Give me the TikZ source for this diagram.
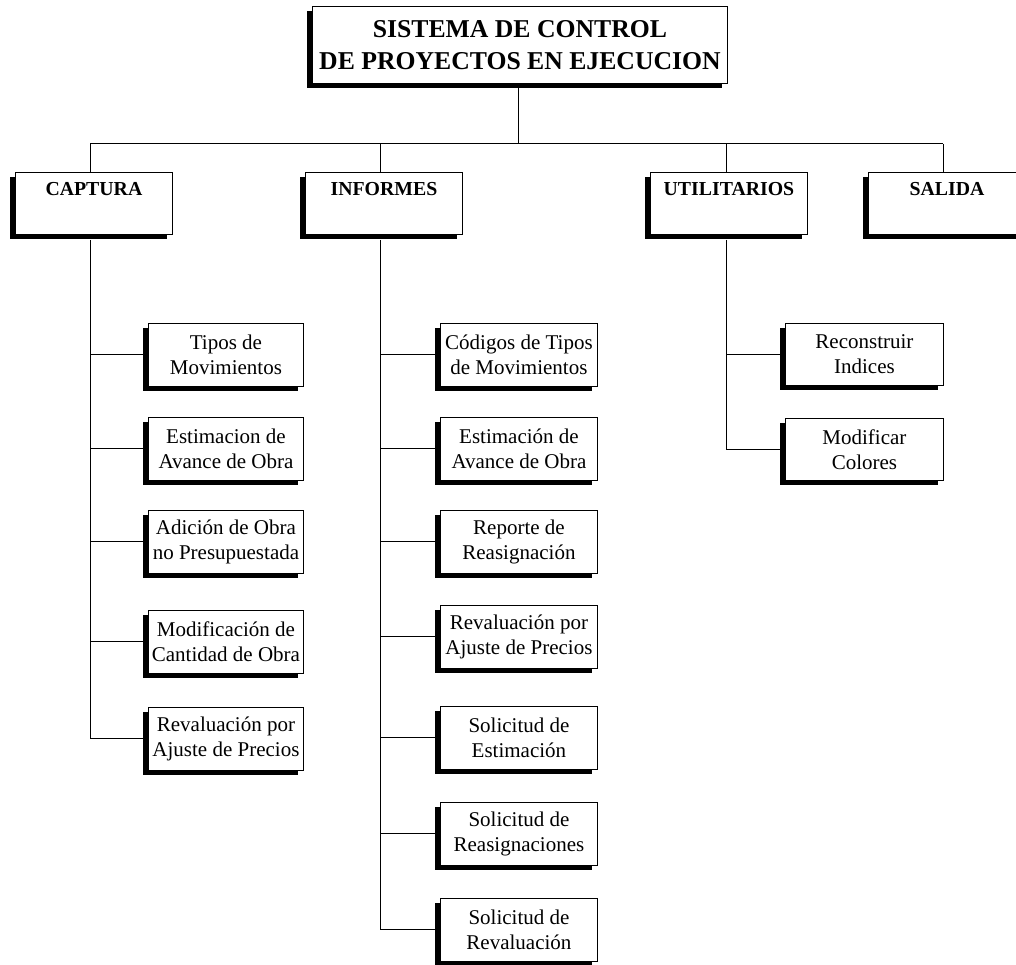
\documentclass[tikz,border=0pt]{standalone}
\usepackage{fontspec}
\setmainfont{Liberation Serif}
\usetikzlibrary{shadows}
\begin{document}
\begin{tikzpicture}[x=1pt,y=-1pt,
  shbox/.style={draw, fill=white, line width=0.9pt, inner sep=0pt, anchor=north west,
    drop shadow={shadow xshift=-5pt, shadow yshift=-5pt, fill=black, opacity=1}},
  titlebox/.style={shbox, minimum width=415pt, minimum height=77pt, align=center,
    font=\fontsize{25.7}{32}\selectfont\bfseries},
  catbox/.style={shbox, minimum width=157pt, text height=23.5pt, text depth=38.5pt,
    font=\fontsize{19.8}{24}\selectfont\bfseries},
  subbox/.style={shbox, minimum width=157pt, minimum height=63pt, align=center,
    font=\fontsize{21}{25}\selectfont},
  conn/.style={line width=1pt}]
\useasboundingbox (0,0) rectangle (1016,965);
\fill[white] (0,0) rectangle (1016,965);

% coordinates for trunk positions
\coordinate (bus) at (518,144);
\coordinate (capx) at (90,0);
\coordinate (infx) at (380,0);
\coordinate (utix) at (726,0);
\coordinate (salx) at (943,0);
\coordinate (busL) at (90,144);
\coordinate (busR) at (943,144);

% connectors of the top level (drawn first, boxes on top)
\draw[conn] (518,84) coordinate (tb) -- (bus);
\draw[conn] (busL) -- (busR);
\draw[conn] (busL) -- (90,172) coordinate (capT);
\draw[conn] (380,144) coordinate (infB) -- (380,172) coordinate (infT);
\draw[conn] (726,144) coordinate (utiB) -- (726,172) coordinate (utiT);
\draw[conn] (busR) -- (943,172) coordinate (salT);

% title
\node[titlebox] (title) at (312,6) {SISTEMA DE CONTROL\\DE PROYECTOS EN EJECUCION};

% categories
\node[catbox] (cap) at (15,172) {CAPTURA};
\node[catbox] (inf) at (305,172) {INFORMES};
\node[catbox] (uti) at (650,172) {UTILITARIOS};
\node[catbox] (sal) at (868,172) {SALIDA};

% CAPTURA children
\node[subbox, minimum width=155pt] (c1) at (148,323) {Tipos de\\Movimientos};
\node[subbox, minimum width=155pt] (c2) at (148,417) {Estimacion de\\Avance de Obra};
\node[subbox, minimum width=155pt] (c3) at (148,510) {Adición de Obra\\no Presupuestada};
\node[subbox, minimum width=155pt] (c4) at (148,610) {Modificación de\\Cantidad de Obra};
\node[subbox, minimum width=155pt] (c5) at (148,707) {Revaluación por\\Ajuste de Precios};

% INFORMES children
\node[subbox] (i1) at (440,323) {Códigos de Tipos\\de Movimientos};
\node[subbox] (i2) at (440,417) {Estimación de\\Avance de Obra};
\node[subbox] (i3) at (440,510) {Reporte de\\Reasignación};
\node[subbox] (i4) at (440,605) {Revaluación por\\Ajuste de Precios};
\node[subbox] (i5) at (440,706) {Solicitud de\\Estimación};
\node[subbox] (i6) at (440,802) {Solicitud de\\Reasignaciones};
\node[subbox] (i7) at (440,898) {Solicitud de\\Revaluación};

% UTILITARIOS children
\node[subbox, minimum width=158pt, minimum height=62pt] (u1) at (785,323) {Reconstruir\\Indices};
\node[subbox, minimum width=158pt, minimum height=62pt] (u2) at (785,418) {Modificar\\Colores};

% trunks and branches
\draw[conn] (cap.south -| capx) ++(0,5) -- (c5.west -| capx) -- (c5.west);
\foreach \n in {c1,c2,c3,c4}{\draw[conn] (\n.west -| capx) -- (\n.west);}
\draw[conn] (inf.south -| infx) ++(0,5) -- (i7.west -| infx) -- (i7.west);
\foreach \n in {i1,i2,i3,i4,i5,i6}{\draw[conn] (\n.west -| infx) -- (\n.west);}
\draw[conn] (uti.south -| utix) ++(0,5) -- (u2.west -| utix) -- (u2.west);
\draw[conn] (u1.west -| utix) -- (u1.west);
\end{tikzpicture}
\end{document}
